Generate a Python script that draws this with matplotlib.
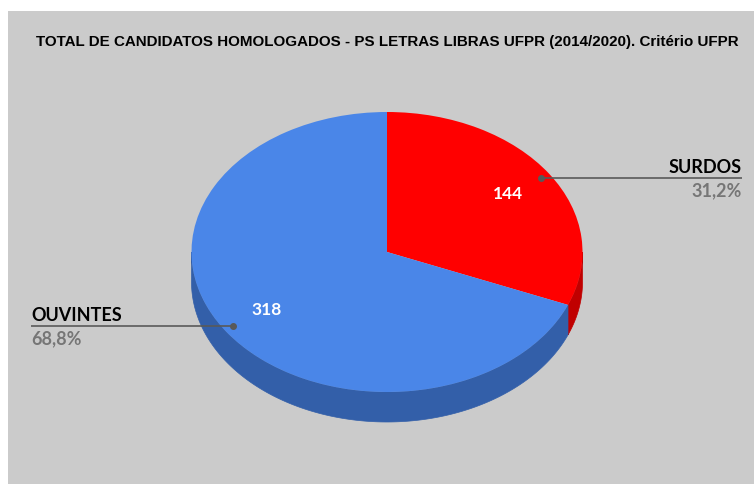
import numpy as np
import matplotlib
matplotlib.use("Agg")
import matplotlib.pyplot as plt
from matplotlib.patches import Wedge, Polygon, Rectangle
from matplotlib.transforms import Affine2D

# ---- data ----
categories = ["SURDOS", "OUVINTES"]
values = [144, 318]
top_colors = ["#ff0000", "#4a86e8"]
side_colors = ["#c00000", "#335fa9"]
title = "TOTAL DE CANDIDATOS HOMOLOGADOS - PS LETRAS LIBRAS UFPR (2014/2020). Critério UFPR"

W, H = 754, 484
fig = plt.figure(figsize=(W / 100, H / 100), dpi=100)
ax = fig.add_axes([0, 0, 1, 1])
ax.set_xlim(0, W)
ax.set_ylim(H, 0)
ax.axis("off")

ax.add_patch(Rectangle((8, 11), W - 8, H - 11, facecolor="#cbcbcb", edgecolor="none", zorder=0))

cx, cy, rx, ry, depth = 387, 252, 195.5, 140, 30
unit = Affine2D().scale(rx, -ry).translate(cx, cy) + ax.transData

total = sum(values)
fracs = [v / total for v in values]
# slices go clockwise from 12 o'clock
starts, ends = [], []
a = 90.0
for f in fracs:
    starts.append(a - 360 * f)
    ends.append(a)
    a -= 360 * f

# side walls (visible front half: angles 180..360)
def side_poly(t1, t2):
    t = np.radians(np.linspace(t1, t2, 200))
    x = cx + rx * np.cos(t)
    y = cy - ry * np.sin(t)
    pts = np.concatenate([np.column_stack([x, y]), np.column_stack([x[::-1], y[::-1] + depth])])
    return pts

for s, e, c in zip(starts, ends, side_colors):
    s2, e2 = s % 360, e % 360
    if e2 <= s2:
        e2 += 360
    for lo, hi in [(180, 360), (540, 720)]:
        a1, a2 = max(s2, lo), min(e2, hi)
        if a2 > a1:
            ax.add_patch(Polygon(side_poly(a1, a2), closed=True, facecolor=c, edgecolor=c, lw=0.5, zorder=1))

for s, e, c in zip(starts, ends, top_colors):
    ax.add_patch(Wedge((0, 0), 1, s, e, facecolor=c, edgecolor="none", transform=unit, zorder=2))

ax.text(387, 42, title, ha="center", va="center", fontsize=10.9, fontweight="bold",
        family="Liberation Sans", color="#000000", zorder=5)

font = "Lato"
label_side = {"SURDOS": ("right", 742), "OUVINTES": ("left", 31)}
for cat, v, f, s, e in zip(categories, values, fracs, starts, ends):
    mid = np.radians((s + e) / 2)
    lx = cx + rx * 0.745 * np.cos(mid)
    ly = cy - ry * 0.745 * np.sin(mid)
    ax.text(lx, ly, str(v), ha="center", va="center", color="white", fontsize=12.5,
            fontweight="bold", family=font, zorder=5)
    dx = cx + rx * 0.95 * np.cos(mid)
    dy = cy - ry * 0.95 * np.sin(mid)
    ha, tx = label_side[cat]
    ax.plot([dx, tx], [dy, dy], color="#595959", lw=1.2, zorder=4, solid_capstyle="butt")
    ax.plot([dx], [dy], marker="o", ms=4, color="#595959", zorder=4)
    ax.text(tx, dy - 5, cat, ha=ha, va="baseline", fontsize=13, fontweight="bold",
            family=font, color="#000000", zorder=5)
    pct = f"{f * 100:.1f}%".replace(".", ",")
    ax.text(tx, dy + 18, pct, ha=ha, va="baseline", fontsize=13, fontweight="bold",
            family=font, color="#767676", zorder=5)

fig.savefig("out.png", dpi=100, facecolor="white")
